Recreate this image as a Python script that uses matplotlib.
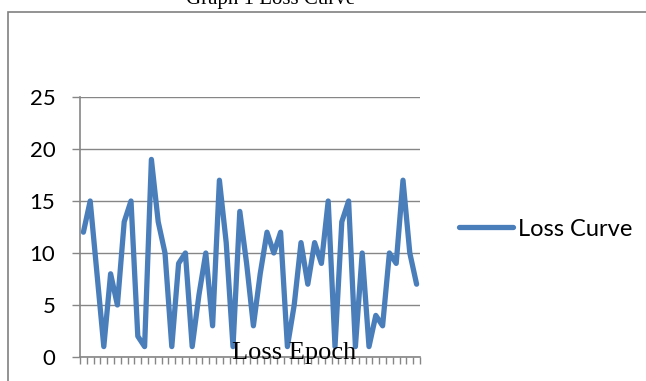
import matplotlib.pyplot as plt
from matplotlib.patches import Rectangle
import numpy as np

# loss values, one per epoch
loss = [12, 15, 8, 1, 8, 5, 13, 15, 2, 1,
        19, 13, 10, 1, 9, 10, 1, 6, 10, 3,
        17, 11, 1, 14, 9, 3, 8, 12, 10, 12,
        1, 5, 11, 7, 11, 9, 15, 1, 13, 15,
        1, 10, 1, 4, 3, 10, 9, 17, 10, 7]
y_ticks = [0, 5, 10, 15, 20, 25]

blue = '#4A7EBB'
grid_gray = '#868686'

fig = plt.figure(figsize=(6.46, 3.81), dpi=100)

# outer chart frame (runs off the right and bottom edges)
fig.patches.append(Rectangle((8 / 646, -0.05), 1.0, 1 - 12 / 381 + 0.05,
                             transform=fig.transFigure, fill=False,
                             edgecolor='#808080', lw=1.2))

ax = fig.add_axes([80 / 646, 1 - 357 / 381, 340 / 646, 260 / 381])
x = np.arange(len(loss))
ax.plot(x, loss, color=blue, lw=3.8, solid_joinstyle='round',
        solid_capstyle='round', label='Loss Curve', clip_on=False)

ax.set_xlim(-0.5, len(loss) - 0.5)
ax.set_ylim(0, 25)
ax.set_yticks(y_ticks)
ax.set_yticklabels([str(v) for v in y_ticks], fontfamily='Lato', fontsize=16)
ax.set_xticks(np.arange(len(loss) + 1) - 0.5)
ax.set_xticklabels([])
ax.tick_params(axis='y', length=5.8, width=1, color=grid_gray, pad=12)
ax.tick_params(axis='x', length=5, width=1, color=grid_gray, direction='out')
ax.grid(axis='y', color=grid_gray, lw=1)
ax.set_axisbelow(True)
for s in ['top', 'right']:
    ax.spines[s].set_visible(False)
for s in ['left', 'bottom']:
    ax.spines[s].set_color(grid_gray)
    ax.spines[s].set_linewidth(1.2)

fig.text(294 / 646, 1 - 359 / 381, 'Loss Epoch', ha='center', va='baseline',
         fontfamily='Liberation Serif', fontsize=19)
fig.text(271 / 646, 1 - 4 / 381, 'Graph 1 Loss Curve', ha='center', va='baseline',
         fontfamily='Liberation Serif', fontsize=15)

leg = fig.legend(loc='center left', bbox_to_anchor=(459 / 646, 1 - 229 / 381),
                 frameon=False, prop={'family': 'Lato', 'size': 17},
                 handlelength=2.3, handletextpad=0.2, borderpad=0, borderaxespad=0)

fig.savefig('out.png', dpi=100)
